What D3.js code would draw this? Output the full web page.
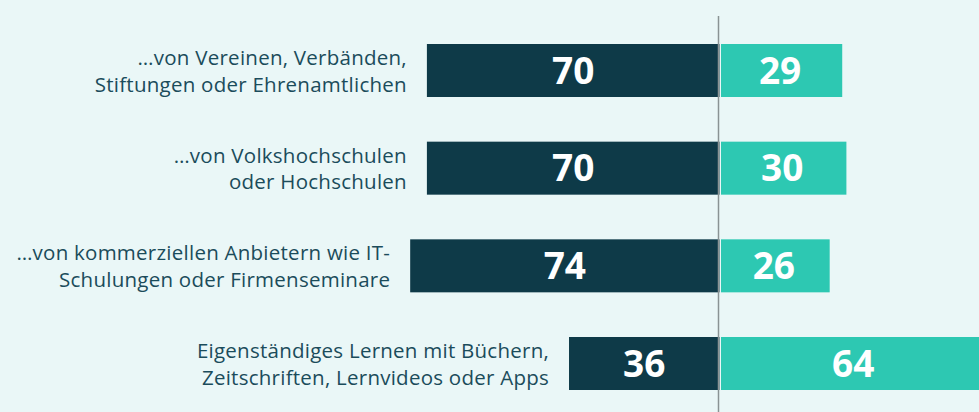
<!DOCTYPE html>
<head>
    <meta charset="utf-8">
    <script src="https://cdn.jsdelivr.net/npm/d3@7"></script>
    <style>
        body { margin: 0; background: #eaf7f7; }
        svg { display: block; font-family: "Open Sans", sans-serif; }
    </style>
</head>
<body>
    <div id="chart"></div>
    <script>
        const width = 979, height = 412;

        // Kategorien (zeilenweise umbrochen wie im Original)
        const categories = [
            ["…von Vereinen, Verbänden,", "Stiftungen oder Ehrenamtlichen"],
            ["…von Volkshochschulen", "oder Hochschulen"],
            ["…von kommerziellen Anbietern wie IT-", "Schulungen oder Firmenseminare"],
            ["Eigenständiges Lernen mit Büchern,", "Zeitschriften, Lernvideos oder Apps"]
        ];
        const leftValues = [70, 70, 74, 36];
        const rightValues = [29, 30, 26, 64];

        const center = 719.5;

        const svg = d3.select("#chart").append("svg")
            .attr("width", width)
            .attr("height", height);

        svg.append("rect")
            .attr("width", width).attr("height", height)
            .attr("fill", "#eaf7f7");

        // horizontale Skala: 0 in der Mitte
        const x = d3.scaleLinear()
            .domain([-100, 100])
            .range([center - 418, center + 418]);

        const y = d3.scalePoint()
            .domain(d3.range(categories.length))
            .range([70.5, 363.5]);

        const barH = 53;

        const rows = svg.append("g").selectAll("g")
            .data(categories.map((c, i) => ({ label: c, left: leftValues[i], right: rightValues[i], i: i })))
            .join("g");

        rows.append("rect")
            .attr("x", d => x(-d.left))
            .attr("y", d => y(d.i) - barH / 2)
            .attr("width", d => x(0) - x(-d.left))
            .attr("height", barH)
            .attr("fill", "#0e3a48");

        rows.append("rect")
            .attr("x", x(0) + 1.5)
            .attr("y", d => y(d.i) - barH / 2)
            .attr("width", d => x(d.right) - x(0))
            .attr("height", barH)
            .attr("fill", "#2dc8b2");

        rows.append("text")
            .attr("x", d => (x(-d.left) + x(0)) / 2)
            .attr("y", d => y(d.i) + 13)
            .attr("text-anchor", "middle")
            .attr("fill", "#fff")
            .attr("font-weight", 700)
            .attr("font-size", 37)
            .text(d => d.left);

        rows.append("text")
            .attr("x", d => (x(0) + x(d.right)) / 2)
            .attr("y", d => y(d.i) + 13)
            .attr("text-anchor", "middle")
            .attr("fill", "#fff")
            .attr("font-weight", 700)
            .attr("font-size", 37)
            .text(d => d.right);

        // Beschriftungen links der Balken
        rows.append("text")
            .attr("text-anchor", "end")
            .attr("fill", "#1b4c5b")
            .attr("font-size", 20.5)
            .attr("letter-spacing", 0.25)
            .selectAll("tspan")
            .data(d => d.label.map((l, k) => ({ l: l, k: k, d: d })))
            .join("tspan")
            .attr("x", t => x(-t.d.left) - 20)
            .attr("y", t => y(t.d.i) - 5.5 + t.k * 26.5)
            .text(t => t.l);

        // Mittellinie
        svg.append("line")
            .attr("x1", center - 1).attr("x2", center - 1)
            .attr("y1", 16).attr("y2", height)
            .attr("stroke", "#8a9394")
            .attr("stroke-width", 1.5);
    </script>
</body>
